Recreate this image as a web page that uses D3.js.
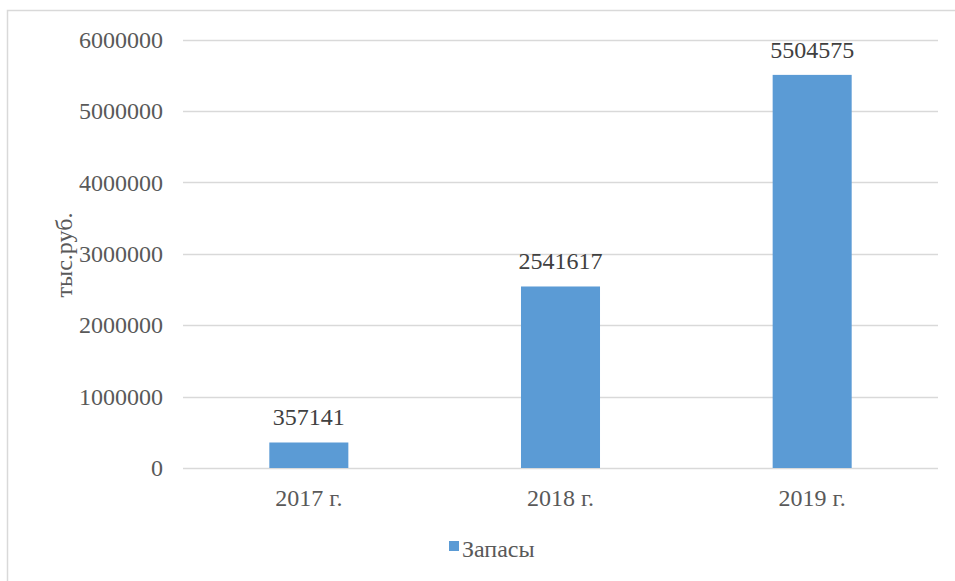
<!DOCTYPE html>
<html><head><meta charset="utf-8">
<script src="https://cdn.jsdelivr.net/npm/d3@7"></script>
<style>html,body{margin:0;padding:0;background:#fff;}
svg text{font-family:"Liberation Serif","Times New Roman","DejaVu Serif",serif !important;}</style>
</head><body>
<svg id="c" width="955" height="581"></svg>
<script>
const categories = ["2017 г.", "2018 г.", "2019 г."];
const values = [357141, 2541617, 5504575];
const yTicks = [0, 1000000, 2000000, 3000000, 4000000, 5000000, 6000000];
const seriesName = "Запасы";
const axisTitle = "тыс.руб.";

const svg = d3.select("#c");
const FS = 24;
svg.append("rect").attr("x", 7.5).attr("y", 10.5).attr("width", 1000).attr("height", 1000)
  .attr("fill", "#fff").attr("stroke", "#d9d9d9").attr("stroke-width", 1.5);

const L = 183, R = 938, T = 39.5, B = 468;
const x = d3.scaleBand().domain(categories).range([L, R]).paddingInner(0.686).paddingOuter(0.343);
const y = d3.scaleLinear().domain([0, 6000000]).range([B, T]);

const g = svg.append("g");
g.selectAll("line.grid").data(yTicks).join("line")
  .attr("x1", L).attr("x2", R).attr("y1", d => Math.round(y(d)) + 0.5).attr("y2", d => Math.round(y(d)) + 0.5)
  .attr("stroke", "#d9d9d9").attr("stroke-width", 1.3);

const yAxis = d3.axisLeft(y).tickValues(yTicks).tickFormat(d3.format("d")).tickSize(0).tickPadding(0);
const ya = svg.append("g").attr("transform", `translate(${163},0)`).call(yAxis);
ya.select(".domain").remove();
ya.selectAll("text").attr("font-size", FS).attr("fill", "#595959");

g.selectAll("rect.bar").data(values).join("rect")
  .attr("x", (d, i) => x(categories[i])).attr("width", x.bandwidth())
  .attr("y", d => y(d)).attr("height", d => B - y(d)).attr("fill", "#5b9bd5");

g.selectAll("text.lab").data(values).join("text")
  .attr("x", (d, i) => x(categories[i]) + x.bandwidth() / 2).attr("y", d => y(d) - 17)
  .attr("text-anchor", "middle").attr("font-size", FS).attr("fill", "#404040")
  .text(d => d);

const xAxis = d3.axisBottom(x).tickSize(0).tickPadding(0);
const xa = svg.append("g").attr("transform", `translate(0,${B})`).call(xAxis);
xa.select(".domain").remove();
xa.selectAll("text").attr("dy", null).attr("y", 38).attr("font-size", FS).attr("fill", "#595959");

svg.append("text").attr("transform", `translate(72,255) rotate(-90)`).attr("text-anchor", "middle")
  .attr("font-size", FS).attr("fill", "#595959").text(axisTitle);

svg.append("rect").attr("x", 449).attr("y", 541).attr("width", 10).attr("height", 10).attr("fill", "#5b9bd5");
svg.append("text").attr("x", 462).attr("y", 557).attr("font-size", FS).attr("fill", "#595959").text(seriesName);
</script>
</body></html>
